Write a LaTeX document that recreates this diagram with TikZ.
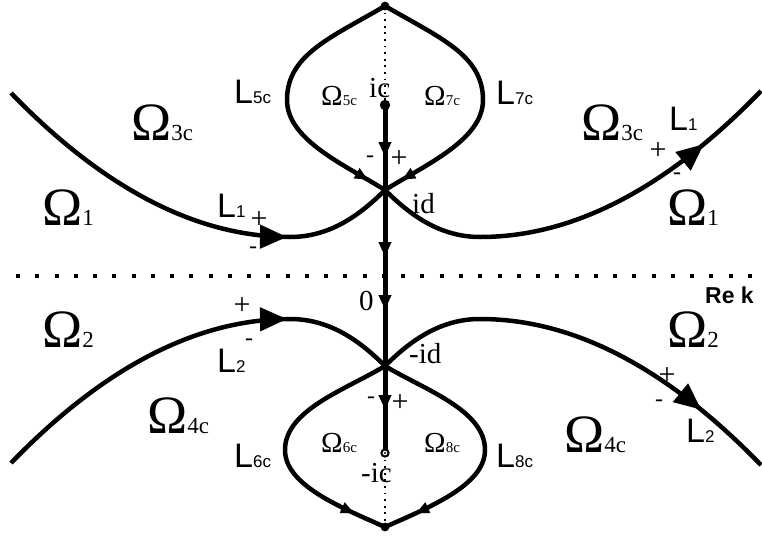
\documentclass[tikz,border=0pt]{standalone}
\usepackage{fontspec}
\setmainfont{Liberation Serif}
\newfontfamily\labelsans{Liberation Sans}
\usetikzlibrary{arrows.meta,decorations.markings}
\newcommand{\bigom}[1]{{\fontsize{54}{54}\selectfont Ω}{\fontsize{23}{23}\selectfont #1}}
\newcommand{\smallom}[1]{{\fontsize{29}{29}\selectfont Ω}{\fontsize{15}{15}\selectfont #1}}
\newcommand{\Lsub}[1]{{\labelsans\fontsize{34}{34}\selectfont L}{\labelsans\fontsize{17}{17}\selectfont #1}}
\tikzset{
  contour/.style={line width=4.5pt,line join=round},
  stem/.style={line width=5pt},
  realaxis/.style={line width=4pt,dash pattern=on 4pt off 15.26pt},
  cutline/.style={line width=1.8pt,dash pattern=on 1.8pt off 4.8pt},
  bigtip/.tip={Triangle[length=27pt,width=23pt]},
  stemtip/.tip={Triangle[length=15pt,width=12pt]},
  looptip/.tip={Triangle[length=13pt,width=11pt]},
  tipat/.style 2 args={decoration={markings,mark=at position #1 with {\arrow{#2}}},postaction=decorate},
  txt/.style={inner sep=0pt,anchor=base west},
  pointlabel/.style={txt,font=\fontsize{29}{29}\selectfont},
  plussign/.style={inner sep=0pt,font=\fontsize{30}{30}\selectfont},
  minussign/.style={inner sep=0pt,font=\fontsize{24}{24}\selectfont}
}
\begin{document}
\begin{tikzpicture}[x=1pt,y=-1pt]
  \useasboundingbox (0,0) rectangle (762,538);
  % points on the imaginary axis
  \coordinate (top) at (385,6);
  \coordinate (ic) at (385,105);
  \coordinate (id) at (385,190);
  \coordinate (mid) at (385,366);
  \coordinate (mic) at (385,453);
  \coordinate (bot) at (385,527);
  % ends and turning points of the contours
  \coordinate (l1start) at (11,93);
  \coordinate (l1knee) at (290,237);
  \coordinate (r1knee) at (480,237);
  \coordinate (r1end) at (761,91);
  \coordinate (l2start) at (11,463);
  \coordinate (l2knee) at (290,319);
  \coordinate (r2knee) at (480,319);
  \coordinate (r2end) at (761,465);
  \coordinate (loop5) at (287,100);
  \coordinate (loop7) at (483,100);
  \coordinate (loop6) at (285,450);
  \coordinate (loop8) at (485,450);
  \coordinate (axisleft) at (16,276);
  \coordinate (axisright) at (755,276);

  \draw[realaxis] (axisleft) -- (axisright);
  \draw[cutline] (top) -- (ic);
  \draw[cutline] (mic) -- (bot);

  \draw[contour,tipat={-3pt}{bigtip}] (l1start) .. controls (104,189) and (197,237) .. (l1knee);
  \draw[contour] (l1knee) .. controls (330,237) and (360,215) .. (id)
    .. controls (410,215) and (440,237) .. (r1knee);
  \draw[contour,tipat={0.76}{bigtip}] (r1knee) .. controls (573,237) and (666,189) .. (r1end);
  \draw[contour,tipat={-3pt}{bigtip}] (l2start) .. controls (104,367) and (197,319) .. (l2knee);
  \draw[contour] (l2knee) .. controls (330,319) and (360,341) .. (mid)
    .. controls (410,341) and (440,319) .. (r2knee);
  \draw[contour,tipat={0.75}{bigtip}] (r2knee) .. controls (573,319) and (666,367) .. (r2end);

  \draw[contour,tipat={-20pt}{looptip}] (top) .. controls (330,38) and (287,55) .. (loop5)
    .. controls (287,140) and (345,165) .. (id);
  \draw[contour,tipat={-20pt}{looptip}] (top) .. controls (440,38) and (483,55) .. (loop7)
    .. controls (483,140) and (425,165) .. (id);
  \draw[contour,tipat={-34pt}{looptip}] (mid) .. controls (345,390) and (285,410) .. (loop6)
    .. controls (285,485) and (340,507) .. (bot);
  \draw[contour,tipat={-34pt}{looptip}] (mid) .. controls (425,390) and (485,410) .. (loop8)
    .. controls (485,485) and (430,507) .. (bot);

  \draw[stem,decoration={markings,
      mark=at position 52pt with {\arrow{stemtip}},
      mark=at position 152pt with {\arrow{stemtip}},
      mark=at position 205pt with {\arrow{stemtip}},
      mark=at position 305pt with {\arrow{stemtip}}},postaction=decorate] (ic) -- (mic);

  \fill (top) circle (4.4pt);
  \fill (ic) circle (5.2pt);
  \fill (bot) circle (4.4pt);
  \draw[line width=2pt,fill=white] (mic) circle (3.6pt);
  \fill (mic) circle (1.1pt);

  \node[txt] (om3cL) at (131,140) {\bigom{3c}};
  \node[txt] (om1L) at (42,225) {\bigom{1}};
  \node[txt] (om3cR) at (581,140) {\bigom{3c}};
  \node[txt] (om1R) at (667,225) {\bigom{1}};
  \node[txt] (om2L) at (42,347) {\bigom{2}};
  \node[txt] (om4cL) at (147,433) {\bigom{4c}};
  \node[txt] (om2R) at (667,347) {\bigom{2}};
  \node[txt] (om4cR) at (564,452) {\bigom{4c}};
  \node[txt] (om5c) at (321,105) {\smallom{5c}};
  \node[txt] (om7c) at (424,105) {\smallom{7c}};
  \node[txt] (om6c) at (321,452) {\smallom{6c}};
  \node[txt] (om8c) at (424,452) {\smallom{8c}};

  \node[txt] (lab5c) at (234,103) {\Lsub{5c}};
  \node[txt] (lab7c) at (496,104) {\Lsub{7c}};
  \node[txt] (lab6c) at (234,467) {\Lsub{6c}};
  \node[txt] (lab8c) at (496,467) {\Lsub{8c}};
  \node[txt] (lab1L) at (217,217) {\Lsub{1}};
  \node[txt] (lab1R) at (669,130) {\Lsub{1}};
  \node[txt] (lab2L) at (217,372) {\Lsub{2}};
  \node[txt] (lab2R) at (686,442) {\Lsub{2}};

  \node[pointlabel] (icl) at (369,97) {ic};
  \node[pointlabel] (idl) at (412,213) {id};
  \node[pointlabel] (origl) at (359,310) {0};
  \node[pointlabel] (midl) at (409,363) {-id};
  \node[pointlabel] (micl) at (361,482) {-ic};
  \node[txt,font=\labelsans\bfseries\fontsize{23}{23}\selectfont] (rek) at (705,303) {Re k};

  \node[plussign] (p1) at (259,220) {+};
  \node[plussign] (p2) at (399,159) {+};
  \node[plussign] (p3) at (658,151) {+};
  \node[plussign] (p4) at (242,306) {+};
  \node[plussign] (p5) at (400,403) {+};
  \node[plussign] (p6) at (667,376) {+};
  \node[minussign] (m1) at (253,250) {-};
  \node[minussign] (m2) at (370,159) {-};
  \node[minussign] (m3) at (677,176) {-};
  \node[minussign] (m4) at (249,342) {-};
  \node[minussign] (m5) at (371,400) {-};
  \node[minussign] (m6) at (659,403) {-};
\end{tikzpicture}
\end{document}
